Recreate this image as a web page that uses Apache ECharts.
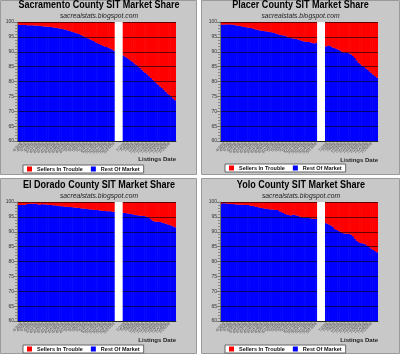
<!DOCTYPE html>
<html><head><meta charset="utf-8">
<script src="https://cdn.jsdelivr.net/npm/echarts@6/dist/echarts.min.js"></script>
<style>html,body{margin:0;padding:0;background:#fff;}#c{width:400px;height:356px;}</style>
</head><body><div id="c"></div>
<script>
const dates = [
 '4/1/08','4/2/08','4/3/08','4/4/08','4/5/08','4/6/08','4/7/08','4/8/08','4/9/08','4/10/08',
 '4/11/08','4/12/08','4/13/08','4/14/08','4/15/08','4/16/08','4/17/08','4/18/08','4/19/08','4/20/08',
 '4/21/08','4/22/08','4/23/08','4/24/08','4/25/08','4/26/08','4/27/08','4/28/08','4/29/08','4/30/08',
 '5/1/08','5/2/08','5/3/08','5/4/08','5/5/08','5/6/08','5/7/08','5/8/08','5/9/08','5/10/08',
 '5/11/08','5/12/08','5/13/08','5/14/08','5/15/08','5/16/08','5/17/08','5/18/08','5/19/08','5/20/08',
 '5/21/08','5/22/08','5/23/08',
 '','','','',
 '7/1/08','7/2/08','7/3/08','7/4/08','7/5/08','7/6/08','7/7/08','7/8/08','7/9/08','7/10/08',
 '7/11/08','7/12/08','7/13/08','7/14/08','7/15/08','7/16/08','7/17/08','7/18/08','7/19/08','7/20/08',
 '7/21/08','7/22/08','7/23/08','7/24/08','7/25/08','7/26/08','7/27/08','7/28/08','7/29/08'
];

const sacramentoRest = [
 99.1,99.1,99.0,99.0,99.0,98.9,98.9,98.9,98.9,98.8,
 98.8,98.8,98.7,98.6,98.5,98.5,98.4,98.4,98.3,98.2,
 98.1,98.0,97.9,97.8,97.7,97.5,97.4,97.2,97.0,96.8,
 96.6,96.4,96.2,96.0,95.7,95.4,95.1,94.8,94.5,94.2,
 93.9,93.6,93.2,92.9,92.6,92.3,92.0,91.8,91.6,91.4,
 91.1,90.8,90.4,
 null,null,null,null,
 88.8,88.4,88.0,87.5,87.1,86.6,86.1,85.6,85.1,84.6,
 84.0,83.4,82.9,82.4,81.8,81.2,80.6,80.0,79.4,78.9,
 78.3,77.8,77.2,76.6,76.0,75.5,74.9,74.3,73.7
];

const placerRest = [
 99.1,99.1,99.2,99.2,99.2,99.2,99.1,99.1,98.9,98.8,
 98.7,98.6,98.4,98.3,98.2,98.1,98.0,97.9,97.7,97.5,
 97.4,97.2,97.1,97.0,96.9,96.8,96.7,96.6,96.5,96.3,
 96.1,95.9,95.7,95.6,95.5,95.4,95.1,94.8,94.6,94.5,
 94.4,94.3,94.1,93.9,93.7,93.5,93.4,93.3,93.3,93.1,
 92.9,92.8,93.0,
 null,null,null,null,
 91.8,92.0,92.1,91.8,91.4,91.2,91.0,90.7,90.4,90.0,
 89.8,89.7,89.6,89.4,89.1,88.6,87.9,87.1,86.3,85.8,
 85.3,84.9,84.4,84.0,83.4,82.8,82.3,81.8,81.3
];

const elDoradoRest = [
 99.0,99.0,99.0,99.0,99.1,99.3,99.4,99.4,99.4,99.4,
 99.4,99.2,99.1,99.3,99.2,99.2,99.1,99.0,99.0,98.9,
 98.9,98.8,98.7,98.6,98.6,98.5,98.4,98.4,98.3,98.3,
 98.2,98.1,98.1,98.0,97.9,97.8,97.8,97.7,97.6,97.5,
 97.5,97.4,97.3,97.3,97.2,97.1,97.0,97.0,96.9,96.9,
 96.9,96.8,96.7,
 null,null,null,null,
 96.4,96.3,96.2,96.1,96.0,95.9,95.7,95.6,95.5,95.4,
 95.4,95.3,95.2,95.0,94.7,94.2,93.7,93.4,93.4,93.3,
 93.3,93.1,92.9,92.7,92.5,92.3,92.1,91.8,91.5
];

const yoloRest = [
 99.3,99.6,99.6,99.5,99.4,99.4,99.3,99.3,99.2,99.2,
 99.1,99.1,99.1,99.0,99.0,99.0,98.8,98.7,98.6,98.4,
 98.3,98.1,98.0,97.9,97.8,97.7,97.6,97.5,97.5,97.4,
 97.3,97.3,96.9,96.6,96.3,96.0,95.8,95.6,95.5,95.7,
 95.8,95.5,95.4,95.1,94.9,94.8,94.8,94.8,94.7,94.5,
 94.4,94.3,94.3,
 null,null,null,null,
 92.9,92.7,92.4,92.1,91.7,90.9,90.6,90.4,90.0,89.6,
 89.4,89.4,89.3,89.3,89.0,88.5,87.7,87.0,86.5,86.2,
 86.1,86.0,85.7,85.2,84.8,84.3,83.9,83.5,83.1
];

const titles = [
 'Sacramento County SIT Market Share',
 'Placer County SIT Market Share',
 'El Dorado County SIT Market Share',
 'Yolo County SIT Market Share'
];
const subtitle = 'sacrealstats.blogspot.com';
const seriesNames = ['Sellers In Trouble', 'Rest Of Market'];
const xAxisName = 'Listings Date';

const layouts = [
 {panel:[0,0,197,175],   grid:{left:17, top:22, width:159, height:119}, cx:99, ty:5.5, sy:16, ly:165, lx:23, nx:176, ny:159},
 {panel:[201,0,199,175], grid:{left:220,top:22, width:158, height:119}, cx:300.5, ty:5.5, sy:16, ly:164, lx:225, nx:378, ny:160},
 {panel:[0,178,197,176], grid:{left:17, top:202,width:159, height:119}, cx:99, ty:185.5, sy:196, ly:345, lx:23, nx:176, ny:340},
 {panel:[201,178,199,176],grid:{left:220,top:202,width:158, height:119}, cx:301, ty:185.5, sy:196, ly:345, lx:225, nx:378, ny:340}
];
const restData = [sacramentoRest, placerRest, elDoradoRest, yoloRest];

const FONT = '"Liberation Sans", Arial, sans-serif';
const grids = [], xAxes = [], yAxes = [], series = [], legends = [], graphics = [];

layouts.forEach((L, i) => {
  const rest = restData[i];
  const sit = rest.map(v => v == null ? null : Math.round((100 - v) * 10) / 10);
  const gap = rest.map(v => v == null ? 100 : null);
  const p = L.panel;
  graphics.push({type:'rect', shape:{x:p[0]+0.5, y:p[1]+0.5, width:p[2]-1, height:p[3]-1},
    style:{fill:'#c8c8c8', stroke:'#9a9a9a', lineWidth:1}, z:-10, silent:true});
  graphics.push({type:'text', x:L.cx, y:L.ty, scaleX:0.86, z:10, silent:true,
    style:{text:titles[i], fontSize:10.5, fontWeight:'bold', fontFamily:FONT, fill:'#000', align:'center', verticalAlign:'middle'}});
  graphics.push({type:'text', x:L.cx, y:L.sy, scaleX:0.9, z:10, silent:true,
    style:{text:subtitle, fontSize:7.5, fontStyle:'italic', fontFamily:FONT, fill:'#222', align:'center', verticalAlign:'middle'}});
  graphics.push({type:'text', x:L.nx, y:L.ny, z:10, silent:true,
    style:{text:xAxisName, fontSize:6, fontWeight:'bold', fontFamily:FONT, fill:'#222', align:'right', verticalAlign:'middle'}});

  grids.push(Object.assign({containLabel:false}, L.grid));
  xAxes.push({type:'category', gridIndex:i, data:dates, boundaryGap:true,
    axisLine:{show:true, lineStyle:{color:'#666', width:1}},
    axisTick:{show:false},
    axisLabel:{fontSize:4.2, rotate:45, interval:1, color:'#555', margin:2, fontFamily:FONT},
    splitLine:{show:false}});
  yAxes.push({type:'value', gridIndex:i, min:60, max:100, interval:5, z:4,
    axisLine:{show:true, lineStyle:{color:'#777', width:1}},
    axisTick:{show:true, length:3, lineStyle:{color:'#777'}},
    minorTick:{show:true, splitNumber:5, length:2, lineStyle:{color:'#888'}},
    axisLabel:{fontSize:5, color:'#333', margin:3, fontFamily:FONT},
    splitLine:{show:true, lineStyle:{color:'rgba(0,0,0,0.6)', width:1}}});
  series.push({type:'bar', name:seriesNames[1], xAxisIndex:i, yAxisIndex:i, stack:'s'+i, data:rest,
    barWidth:2.4, barGap:'-100%', z:2, silent:true,
    itemStyle:{color:'#0000ff'}});
  series.push({type:'bar', name:seriesNames[0], xAxisIndex:i, yAxisIndex:i, stack:'s'+i, data:sit,
    barWidth:2.4, barGap:'-100%', z:2, silent:true,
    itemStyle:{color:'#ff0000'}});
  series.push({type:'bar', name:'gap', xAxisIndex:i, yAxisIndex:i, data:gap,
    barWidth:2.4, barGap:'-100%', z:6, silent:true,
    itemStyle:{color:'#ffffff'}});
  legends.push({left:L.lx, top:L.ly, orient:'horizontal', data:seriesNames,
    backgroundColor:'#ffffff', borderColor:'#666', borderWidth:1, padding:[1,4],
    itemWidth:5, itemHeight:5, itemGap:8, icon:'rect', selectedMode:false,
    textStyle:{fontSize:5.5, fontWeight:'bold', color:'#111', fontFamily:FONT}});
});

const chart = echarts.init(document.getElementById('c'), null, {renderer:'canvas'});
chart.setOption({
  animation:false,
  backgroundColor:'#ffffff',
  textStyle:{fontFamily:FONT},
  graphic:graphics,
  grid:grids,
  xAxis:xAxes,
  yAxis:yAxes,
  legend:legends,
  series:series
});
</script></body></html>
